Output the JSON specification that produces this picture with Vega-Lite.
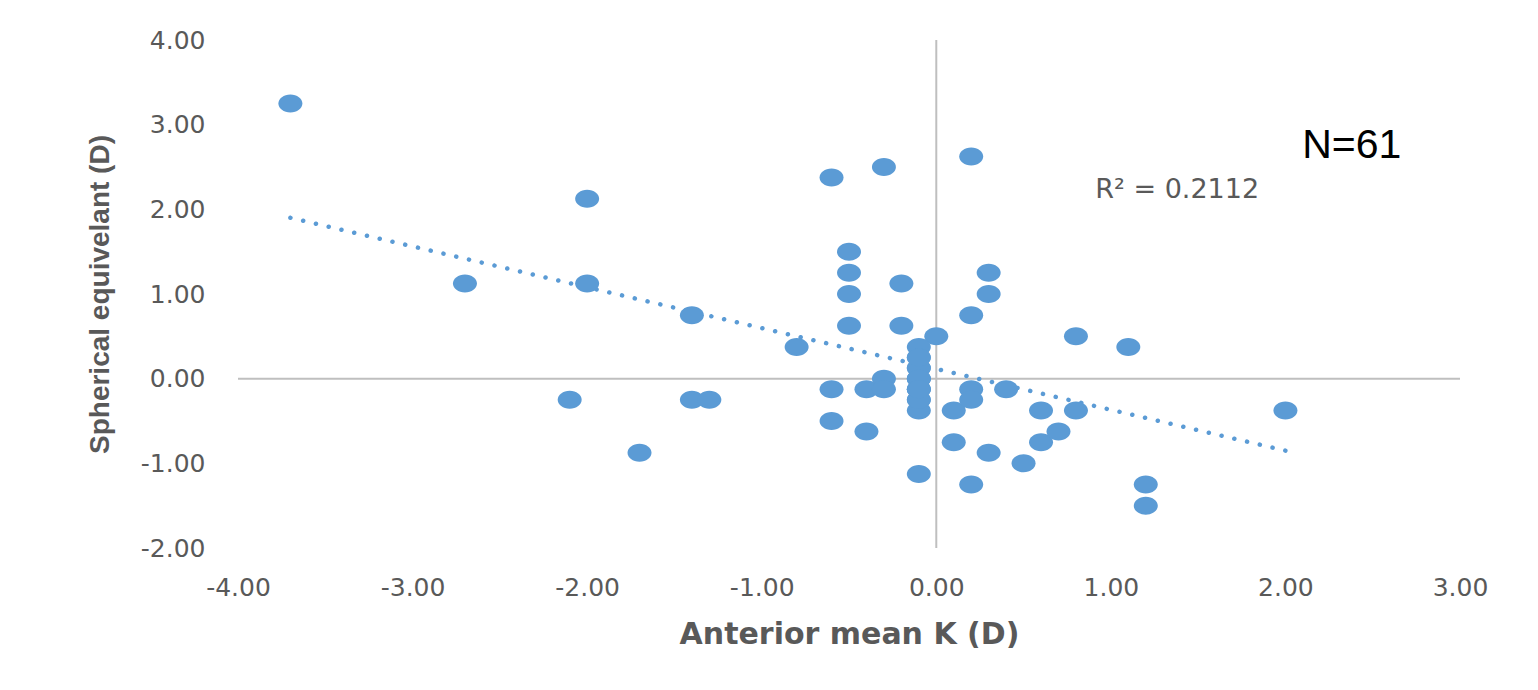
{
  "$schema": "https://vega.github.io/schema/vega-lite/v6.json",
  "width": 1222,
  "height": 508,
  "autosize": {"type": "none"},
  "padding": {"left": 238, "top": 40, "right": 78, "bottom": 142},
  "background": "white",
  "config": {
    "view": {"stroke": null},
    "axis": {
      "grid": false, "domain": false, "ticks": false, "labelFlush": false, "labelOverlap": false,
      "labelFont": "DejaVu Sans", "labelFontSize": 25, "labelColor": "#595959",
      "titleColor": "#595959", "titleFontWeight": "bold"
    }
  },
  "datasets": {
    "points": [
      {"k": -3.7, "se": 3.25}, {"k": -2.0, "se": 2.125}, {"k": -2.7, "se": 1.125}, {"k": -2.0, "se": 1.125},
      {"k": -1.4, "se": 0.75}, {"k": -0.8, "se": 0.375}, {"k": -2.1, "se": -0.25}, {"k": -1.4, "se": -0.25},
      {"k": -1.3, "se": -0.25}, {"k": -1.7, "se": -0.875}, {"k": -0.6, "se": 2.375}, {"k": -0.3, "se": 2.5},
      {"k": 0.2, "se": 2.625}, {"k": -0.5, "se": 1.5}, {"k": -0.5, "se": 1.25}, {"k": -0.5, "se": 1.0},
      {"k": -0.5, "se": 0.625}, {"k": -0.2, "se": 1.125}, {"k": -0.2, "se": 0.625}, {"k": 0.0, "se": 0.5},
      {"k": 0.3, "se": 1.25}, {"k": 0.3, "se": 1.0}, {"k": 0.2, "se": 0.75}, {"k": 0.8, "se": 0.5},
      {"k": 1.1, "se": 0.375}, {"k": 2.0, "se": -0.375}, {"k": -0.6, "se": -0.125}, {"k": -0.6, "se": -0.5},
      {"k": -0.4, "se": -0.125}, {"k": -0.3, "se": 0.0}, {"k": -0.3, "se": -0.125}, {"k": -0.4, "se": -0.625},
      {"k": -0.1, "se": 0.375}, {"k": -0.1, "se": 0.25}, {"k": -0.1, "se": 0.125}, {"k": -0.1, "se": 0.0},
      {"k": -0.1, "se": -0.125}, {"k": -0.1, "se": -0.25}, {"k": -0.1, "se": -0.375},
      {"k": -0.1, "se": 0.0}, {"k": -0.1, "se": -0.125}, {"k": -0.1, "se": 0.125}, {"k": -0.1, "se": -0.25},
      {"k": -0.1, "se": 0.25}, {"k": -0.1, "se": 0.0}, {"k": -0.1, "se": -0.125},
      {"k": -0.1, "se": -1.125}, {"k": 0.1, "se": -0.375}, {"k": 0.1, "se": -0.75}, {"k": 0.2, "se": -0.125},
      {"k": 0.2, "se": -0.25}, {"k": 0.2, "se": -1.25}, {"k": 0.3, "se": -0.875}, {"k": 0.4, "se": -0.125},
      {"k": 0.5, "se": -1.0}, {"k": 0.6, "se": -0.375}, {"k": 0.6, "se": -0.75}, {"k": 0.7, "se": -0.625},
      {"k": 0.8, "se": -0.375}, {"k": 1.2, "se": -1.25}, {"k": 1.2, "se": -1.5}
    ],
    "trend": [{"k": -3.7, "se": 1.9}, {"k": 2.0, "se": -0.85}],
    "labels": [
      {"k": 1.38, "se": 2.23, "txt": "R² = 0.2112", "kind": "r2"},
      {"k": 2.38, "se": 2.75, "txt": "N=61", "kind": "n"}
    ]
  },
  "layer": [
    {
      "data": {"values": [{"v": 0}]},
      "mark": {"type": "rule", "color": "#BFBFBF", "strokeWidth": 2},
      "encoding": {"x": {"field": "v", "type": "quantitative", "scale": {"domain": [-4, 3], "nice": false, "zero": false}}}
    },
    {
      "data": {"values": [{"v": 0}]},
      "mark": {"type": "rule", "color": "#BFBFBF", "strokeWidth": 2},
      "encoding": {"y": {"field": "v", "type": "quantitative", "scale": {"domain": [-2, 4], "nice": false, "zero": false}}}
    },
    {
      "data": {"name": "trend"},
      "mark": {"type": "line", "color": "#5B9BD5", "strokeWidth": 4.5, "strokeCap": "round", "strokeDash": [0.1, 13]},
      "encoding": {
        "x": {"field": "k", "type": "quantitative"},
        "y": {"field": "se", "type": "quantitative"}
      }
    },
    {
      "data": {"name": "points"},
      "mark": {"type": "point", "filled": true, "opacity": 1, "color": "#5B9BD5", "size": 576,
               "shape": "M -1 0 A 1 0.75 0 1 0 1 0 A 1 0.75 0 1 0 -1 0 Z"},
      "encoding": {
        "x": {"field": "k", "type": "quantitative",
              "scale": {"domain": [-4, 3], "nice": false, "zero": false},
              "axis": {"values": [-4, -3, -2, -1, 0, 1, 2, 3], "format": ".2f", "labelPadding": 27,
                       "labelExpr": "replace(datum.label, '\u2212', '-')",
                       "title": "Anterior mean K (D)", "titleFont": "DejaVu Sans", "titleFontSize": 30, "titlePadding": 19}},
        "y": {"field": "se", "type": "quantitative",
              "scale": {"domain": [-2, 4], "nice": false, "zero": false},
              "axis": {"values": [-2, -1, 0, 1, 2, 3, 4], "format": ".2f", "labelPadding": 33,
                       "labelExpr": "replace(datum.label, '\u2212', '-')",
                       "title": "Spherical equivelant (D)", "titleFont": "Liberation Sans", "titleFontSize": 28, "titlePadding": 26}}
      }
    },
    {
      "data": {"name": "labels"},
      "transform": [{"filter": "datum.kind == 'r2'"}],
      "mark": {"type": "text", "font": "DejaVu Sans", "fontSize": 27, "color": "#595959"},
      "encoding": {
        "x": {"field": "k", "type": "quantitative"},
        "y": {"field": "se", "type": "quantitative"},
        "text": {"field": "txt"}
      }
    },
    {
      "data": {"name": "labels"},
      "transform": [{"filter": "datum.kind == 'n'"}],
      "mark": {"type": "text", "font": "Liberation Sans", "fontSize": 41, "color": "#000000"},
      "encoding": {
        "x": {"field": "k", "type": "quantitative"},
        "y": {"field": "se", "type": "quantitative"},
        "text": {"field": "txt"}
      }
    }
  ]
}
